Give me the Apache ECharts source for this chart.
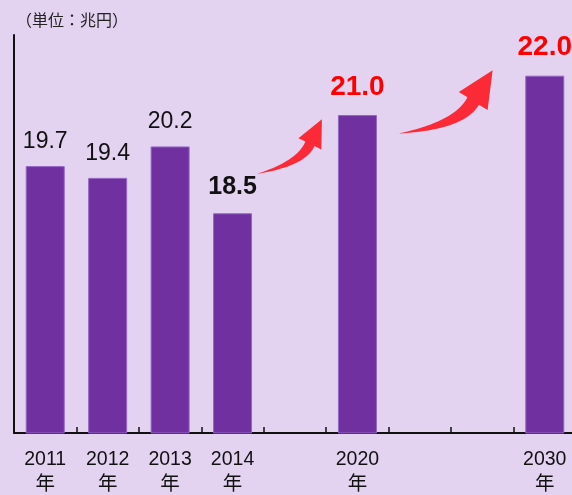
<!DOCTYPE html>
<html><head><meta charset="utf-8">
<script src="https://cdn.jsdelivr.net/npm/echarts@6/dist/echarts.min.js"></script>
<style>html,body{margin:0;padding:0;background:#e3d3f1;}#c{width:572px;height:495px;}</style>
</head><body><div id="c"></div>
<script>
// ---- data ----
const years = ['2011', '2012', '2013', '2014', '', '2020', '', '', '2030'];
const values = [19.7, 19.4, 20.2, 18.5, null, 21.0, null, null, 22.0];
const yearSuffix = '年';
const unitLabel = '（単位：兆円）';
const latestActualYear = '2014';
const forecastYears = ['2020', '2030'];
// growth arrows, anchored in data space: [fromCategory, fromFraction, fromValue, toCategory, toFraction, toValue]
const arrowFrom1 = [3, 0.389, 19.50, 4, 0.431, 20.89];
const arrowFrom2 = [5, 0.659, 20.53, 7, 0.165, 22.14];
const arrows = [arrowFrom1, arrowFrom2];

// ---- chart ----
const chart = echarts.init(document.getElementById('c'), null, {renderer: 'canvas'});
const latin = 'Liberation Sans, Arial, Noto Sans CJK JP, sans-serif';
const cjk = 'Noto Sans CJK JP, sans-serif';

const barData = values.map((v, i) => {
  const y = years[i];
  if (v == null) return {value: null};
  let label;
  if (forecastYears.indexOf(y) >= 0) {
    label = {color: '#ff0000', fontWeight: 'bold', fontSize: 28, lineHeight: 28, distance: 14};
  } else if (y === latestActualYear) {
    label = {color: '#111111', fontWeight: 'bold', fontSize: 25, lineHeight: 25, distance: 14};
  } else {
    label = {color: '#111111', fontWeight: 'normal', fontSize: 23, lineHeight: 23, distance: 13};
  }
  return {value: v, label: label};
});

function quad(p0, c, p1, n) {
  const pts = [];
  for (let i = 0; i <= n; i++) {
    const t = i / n, u = 1 - t;
    pts.push([u * u * p0[0] + 2 * u * t * c[0] + t * t * p1[0],
              u * u * p0[1] + 2 * u * t * c[1] + t * t * p1[1]]);
  }
  return pts;
}

function renderArrow(params, api) {
  const bw = api.size([1, 0])[0];
  const px = (c, f, v) => { const p = api.coord([c, v]); return [p[0] + f * bw, p[1]]; };
  const T = px(api.value(0), api.value(1), api.value(2));
  const P = px(api.value(3), api.value(4), api.value(5));
  const V = [P[0] - T[0], P[1] - T[1]];
  const N = [V[1], -V[0]];
  const at = (a, b) => [T[0] + a * V[0] + b * N[0], T[1] + a * V[1] + b * N[1]];
  const L = at(0.645, 0.007), R = at(0.767, -0.267);
  const NL = at(0.682, -0.075), NR = at(0.730, -0.185);
  const upper = quad(T, at(0.47, -0.19), NL, 24);
  const lower = quad(NR, at(0.50, -0.30), T, 24);
  const pts = upper.concat([L, P, R]).concat(lower);
  return {
    type: 'polygon',
    shape: {points: pts},
    style: {fill: '#fb2a36'}
  };
}

chart.setOption({
  backgroundColor: '#e3d3f1',
  animation: false,
  title: {
    text: unitLabel, left: 11, top: 7,
    textStyle: {fontSize: 16, fontWeight: 'normal', color: '#222', fontFamily: cjk}
  },
  grid: {left: 14, top: 35, width: 562, height: 398, outerBoundsMode: 'none', containLabel: false},
  xAxis: {
    type: 'category',
    data: years,
    boundaryGap: true,
    axisLine: {lineStyle: {color: '#111', width: 2}},
    axisTick: {show: true, inside: true, length: 6, interval: 0, lineStyle: {color: '#111', width: 1.5}},
    axisLabel: {
      interval: 0, margin: 14, fontSize: 19.5, lineHeight: 25, color: '#111', fontFamily: latin,
      formatter: v => v ? v + '\n' + yearSuffix : ''
    },
    splitLine: {show: false}
  },
  yAxis: {
    type: 'value',
    min: 12.91, max: 23.035,
    axisLine: {show: true, lineStyle: {color: '#111', width: 2}},
    axisTick: {show: false},
    axisLabel: {show: false},
    splitLine: {show: false}
  },
  series: [
    {
      type: 'bar',
      data: barData,
      barWidth: 39,
      itemStyle: {color: '#7030a0', borderColor: '#9466c4', borderWidth: 1},
      label: {
        show: true, position: 'top', fontFamily: latin,
        formatter: p => Number(p.value).toFixed(1)
      },
      silent: true,
      z: 2
    },
    {
      type: 'custom',
      coordinateSystem: 'cartesian2d',
      dimensions: ['fc', 'ff', 'fv', 'tc', 'tf', 'tv'],
      encode: {x: [0, 3], y: [2, 5]},
      data: arrows,
      renderItem: renderArrow,
      clip: false,
      silent: true,
      z: 3
    }
  ]
});
</script>
</body></html>
